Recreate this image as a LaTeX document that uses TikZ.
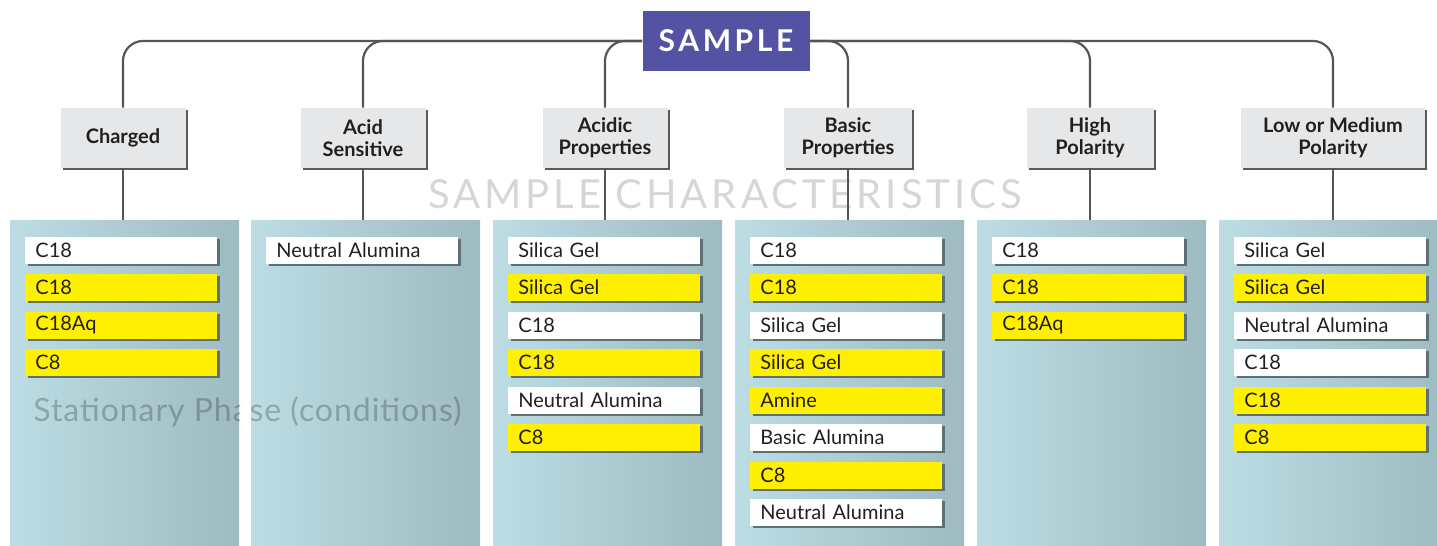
\documentclass[tikz,border=0pt]{standalone}
\usepackage{fontspec}
\setmainfont{Lato}
\newfontfamily\spacedfont[LetterSpace=12]{Lato}
\newfontfamily\markfont[LetterSpace=10]{Lato}
\newfontfamily\phasefont[LetterSpace=3]{Lato}
\usetikzlibrary{shadows}

\definecolor{samplecol}{RGB}{84,83,163}
\definecolor{linecol}{RGB}{85,85,85}
\definecolor{catfill}{RGB}{230,231,232}
\definecolor{catshadow}{RGB}{90,90,92}
\definecolor{textcol}{RGB}{35,31,32}
\definecolor{entryshadow}{RGB}{94,111,118}
\definecolor{yellowcol}{RGB}{255,240,0}
\definecolor{panelleft}{RGB}{187,221,227}
\definecolor{panelright}{RGB}{157,187,193}
\definecolor{markcol}{RGB}{214,214,214}

\begin{document}
\begin{tikzpicture}[x=0.5pt,y=-0.5pt,
    link/.style={draw=linecol,line width=1.1pt,rounded corners=10pt},
    samplebox/.style={fill=samplecol,text=white,minimum width=83.5pt,minimum height=30pt,
        inner sep=0pt,font=\spacedfont\bfseries\fontsize{15}{15}\selectfont},
    catbox/.style={fill=catfill,text=textcol,minimum height=30pt,inner sep=2pt,align=center,
        font=\bfseries\fontsize{10}{11}\selectfont,
        drop shadow={shadow xshift=1.2pt,shadow yshift=-1.2pt,opacity=1,fill=catshadow}},
    panel/.style={left color=panelleft,right color=panelright,minimum width=114.5pt,
        minimum height=163pt,inner sep=0pt},
    entry/.style={anchor=west,minimum width=96pt,minimum height=13.5pt,inner sep=0pt,
        inner xsep=5pt,text width=86pt,align=left,text=textcol,
        font=\fontsize{10}{10}\selectfont,
        drop shadow={shadow xshift=1.2pt,shadow yshift=-1.2pt,opacity=1,fill=entryshadow}}]
    \useasboundingbox (0,0) rectangle (1437,546);

    % the big light title behind the lines
    \node[anchor=base,inner sep=0pt,text=markcol,font=\markfont\fontsize{20}{20}\selectfont]
        (title) at (725,208) {SAMPLE CHARACTERISTICS};

    % the six columns
    \foreach \x/\name in {10/p1,251/p2,493/p3,735/p4,977/p5,1219/p6}
        \node[panel] (\name) at (\x+114.5,383) {};

    % the label over the first two columns
    \begin{scope}
        \clip (p1.south west) rectangle (p1.north east) (p2.south west) rectangle (p2.north east);
        \node[anchor=base west,inner sep=0pt,text=black,text opacity=0.23,
            font=\phasefont\fontsize{16}{16}\selectfont] (phase) at (33,421) {Stationary Phase (conditions)};
    \end{scope}

    % entries of each column
    \foreach \txt/\col [count=\i from 0] in {C18/white,C18/yellowcol,C18Aq/yellowcol,C8/yellowcol}
        \node[entry,fill=\col] (p1-\i) at (25,250+37.5*\i) {\txt};

    \foreach \txt/\col [count=\i from 0] in {Neutral Alumina/white}
        \node[entry,fill=\col] (p2-\i) at (266,250+37.5*\i) {\txt};

    \foreach \txt/\col [count=\i from 0] in {
        Silica Gel/white,Silica Gel/yellowcol,C18/white,C18/yellowcol,
        Neutral Alumina/white,C8/yellowcol}
        \node[entry,fill=\col] (p3-\i) at (508,250+37.5*\i) {\txt};

    \foreach \txt/\col [count=\i from 0] in {
        C18/white,C18/yellowcol,Silica Gel/white,Silica Gel/yellowcol,
        Amine/yellowcol,Basic Alumina/white,C8/yellowcol,Neutral Alumina/white}
        \node[entry,fill=\col] (p4-\i) at (750,250+37.5*\i) {\txt};

    \foreach \txt/\col [count=\i from 0] in {C18/white,C18/yellowcol,C18Aq/yellowcol}
        \node[entry,fill=\col] (p5-\i) at (992,250+37.5*\i) {\txt};

    \foreach \txt/\col [count=\i from 0] in {
        Silica Gel/white,Silica Gel/yellowcol,Neutral Alumina/white,
        C18/white,C18/yellowcol,C8/yellowcol}
        \node[entry,fill=\col] (p6-\i) at (1234,250+37.5*\i) {\txt};

    % the sample and its characteristics
    \node[samplebox] (sample) at (726,41) {SAMPLE};

    \foreach \x/\name/\txt/\w in {
        123/charged/Charged/62.5pt,
        363/acid/{Acid\\Sensitive}/62.5pt,
        605/acidic/{Acidic\\Properties}/62.5pt,
        848/basic/{Basic\\Properties}/64pt,
        1090/high/{High\\Polarity}/63.5pt,
        1333/low/{Low or Medium\\Polarity}/92pt}
            \node[catbox,minimum width=\w] (\name) at (\x,138) {\txt};

    % the tree lines
    \foreach \name in {charged,acid,acidic}
        \draw[link] (sample.west) -| (\name.north);
    \foreach \name in {basic,high,low}
        \draw[link] (sample.east) -| (\name.north);

    % down to the columns
    \foreach \name/\col in {charged/p1,acid/p2,acidic/p3,basic/p4,high/p5,low/p6}
        \draw[link] (\name.south) -- (\name.south |- \col.north);
\end{tikzpicture}
\end{document}
